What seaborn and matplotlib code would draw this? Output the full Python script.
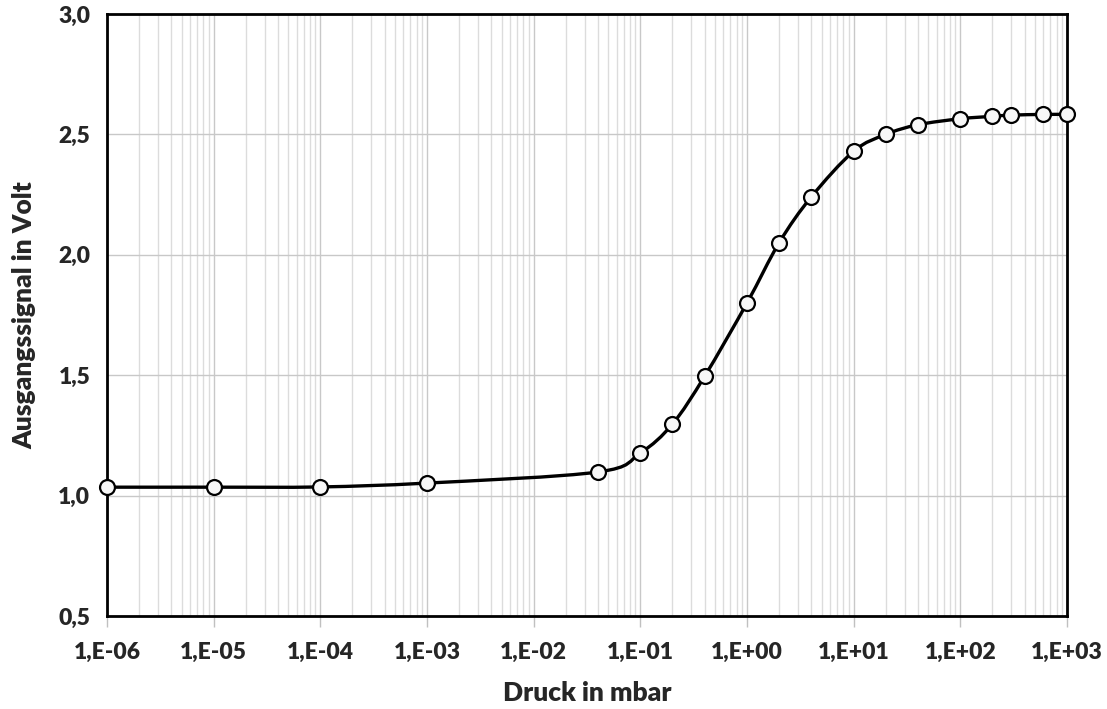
import numpy as np
import pandas as pd
import matplotlib
matplotlib.use("Agg")
import matplotlib.pyplot as plt
from matplotlib.path import Path
from matplotlib.patches import PathPatch
from matplotlib.ticker import FixedLocator, LogLocator, NullFormatter
import seaborn as sns

pressure_mbar = [1e-6, 1e-5, 1e-4, 1e-3, 0.04, 0.1, 0.2, 0.4, 1, 2, 4, 10, 20, 40, 100, 200, 300, 600, 1000]
signal_volt = [1.035, 1.035, 1.036, 1.052, 1.098, 1.177, 1.297, 1.495, 1.80, 2.05, 2.24, 2.43, 2.50, 2.54, 2.565, 2.575, 2.58, 2.583, 2.583]

x_ticks = [1e-6, 1e-5, 1e-4, 1e-3, 1e-2, 1e-1, 1e0, 1e1, 1e2, 1e3]
x_tick_labels = ["1,E-06", "1,E-05", "1,E-04", "1,E-03", "1,E-02", "1,E-01", "1,E+00", "1,E+01", "1,E+02", "1,E+03"]
y_ticks = [0.5, 1.0, 1.5, 2.0, 2.5, 3.0]
y_tick_labels = ["0,5", "1,0", "1,5", "2,0", "2,5", "3,0"]
x_label = "Druck in mbar"
y_label = "Ausgangssignal in Volt"

sns.set_style("white")
plt.rcParams['font.family'] = ['Lato', 'DejaVu Sans']

fig = plt.figure(figsize=(11.07, 7.09), dpi=100)
ax = fig.add_axes([107/1107, (709-616)/709, (1067-107)/1107, (616-14)/709])

df = pd.DataFrame({"p": pressure_mbar, "v": signal_volt})

# smooth line (Catmull-Rom as cubic Bezier in log-x space, drawn by matplotlib Path)
lx = np.log10(df["p"].to_numpy())
vy = df["v"].to_numpy()
pts = np.column_stack([lx, vy])
n = len(pts)
verts = [pts[0]]
codes = [Path.MOVETO]
for i in range(n - 1):
    p0 = pts[i - 1] if i > 0 else pts[i]
    p1 = pts[i]
    p2 = pts[i + 1]
    p3 = pts[i + 2] if i + 2 < n else pts[i + 1]
    c1 = p1 + (p2 - p0) / 6.0
    c2 = p2 - (p3 - p1) / 6.0
    verts += [c1, c2, p2]
    codes += [Path.CURVE4] * 3
verts = np.array(verts)
verts[:, 0] = 10 ** verts[:, 0]
patch = PathPatch(Path(verts, codes), facecolor="none", edgecolor="black", lw=2.4, zorder=3)
ax.add_patch(patch)

sns.scatterplot(data=df, x="p", y="v", ax=ax, s=115, color="#f7f7f7", edgecolor="black",
                linewidth=1.6, zorder=4, legend=False, clip_on=False)

ax.set_xscale("log")
ax.set_xlim(1e-6, 1e3)
ax.set_ylim(0.5, 3.0)

ax.xaxis.set_major_locator(FixedLocator(x_ticks))
ax.set_xticks(x_ticks)
ax.set_xticklabels(x_tick_labels, fontsize=16.5, fontweight="heavy")
ax.xaxis.set_minor_locator(LogLocator(base=10, subs=np.arange(2, 10), numticks=100))
ax.xaxis.set_minor_formatter(NullFormatter())
ax.set_yticks(y_ticks)
ax.set_yticklabels(y_tick_labels, fontsize=16.5, fontweight="heavy")

ax.grid(True, which="major", axis="both", color="#c8c8c8", lw=1.0)
ax.grid(True, which="minor", axis="x", color="#dcdcdc", lw=1.0)
ax.set_axisbelow(True)

ax.tick_params(axis="x", which="major", length=8, width=1, color="#c0c0c0", pad=11, direction="out", bottom=True)
ax.tick_params(axis="x", which="minor", length=0)
ax.tick_params(axis="y", which="both", length=0, pad=12)

for s in ax.spines.values():
    s.set_color("black")
    s.set_linewidth(2)

ax.set_xlabel(x_label, fontsize=19, fontweight="heavy", labelpad=13)
ax.set_ylabel(y_label, fontsize=19, fontweight="heavy", labelpad=16)

fig.savefig("out.png", dpi=100, facecolor="white")
